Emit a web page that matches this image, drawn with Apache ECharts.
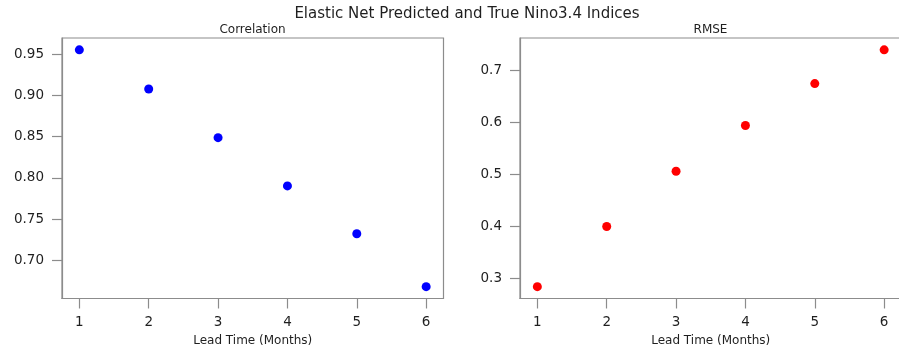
<!DOCTYPE html>
<html>
<head>
<meta charset="utf-8">
<script src="https://cdn.jsdelivr.net/npm/echarts@6/dist/echarts.min.js"></script>
<style>
html,body{margin:0;padding:0;background:#fff;}
#c{width:899px;height:346px;}
</style>
</head>
<body>
<div id="c"></div>
<script>
const leadTimes = [1, 2, 3, 4, 5, 6];
const correlation = [0.9552, 0.9077, 0.8488, 0.7903, 0.7323, 0.6682];
const rmse = [0.2845, 0.4000, 0.5060, 0.5937, 0.6740, 0.7388];
const xTicks = [1, 2, 3, 4, 5, 6];
const corrTicks = [0.70, 0.75, 0.80, 0.85, 0.90, 0.95];
const rmseTicks = [0.3, 0.4, 0.5, 0.6, 0.7];
const suptitle = 'Elastic Net Predicted and True Nino3.4 Indices';
const titles = ['Correlation', 'RMSE'];
const xLabel = 'Lead Time (Months)';

function pad(arr) {
  const mn = Math.min(...arr), mx = Math.max(...arr), d = (mx - mn) * 0.05;
  return [mn - d, mx + d];
}
const xr = pad(leadTimes);
const cr = pad(correlation);
const rr = pad(rmse);

const font = 'DejaVu Sans';
const spine = '#8c8c8c';
const txt = '#1f1f1f';

function xAxis(idx) {
  return {
    type: 'value', gridIndex: idx, min: xr[0], max: xr[1],
    name: xLabel, nameLocation: 'middle', nameGap: 34,
    nameTextStyle: {fontFamily: font, fontSize: 12, color: txt},
    axisLine: {show: true, lineStyle: {color: spine, width: 1.2}},
    axisTick: {show: true, length: 10, customValues: xTicks, lineStyle: {color: spine, width: 1.2}},
    axisLabel: {customValues: xTicks, margin: 17, fontFamily: font, fontSize: 13.5, color: txt,
      formatter: v => String(v)},
    splitLine: {show: false}
  };
}
function yAxis(idx, range, ticks, dec) {
  return {
    type: 'value', gridIndex: idx, min: range[0], max: range[1],
    axisLine: {show: true, lineStyle: {color: spine, width: 1.2}},
    axisTick: {show: true, length: 10, customValues: ticks, lineStyle: {color: spine, width: 1.2}},
    axisLabel: {customValues: ticks, margin: 18, fontFamily: font, fontSize: 13.5, color: txt,
      formatter: v => v.toFixed(dec)},
    splitLine: {show: false}
  };
}

const chart = echarts.init(document.getElementById('c'), null, {renderer: 'canvas'});
chart.setOption({
  backgroundColor: '#fff',
  animation: false,
  title: [
    {text: suptitle, left: 462, top: 2, textAlign: 'center',
      textStyle: {fontFamily: font, fontSize: 15, fontWeight: 'normal', color: txt}},
    {text: titles[0], left: 247.5, top: 19, textAlign: 'center',
      textStyle: {fontFamily: font, fontSize: 12, fontWeight: 'normal', color: txt}},
    {text: titles[1], left: 705.5, top: 19, textAlign: 'center',
      textStyle: {fontFamily: font, fontSize: 12, fontWeight: 'normal', color: txt}}
  ],
  grid: [
    {left: 62, top: 38, width: 381.5, height: 260.5, show: true, borderColor: spine, borderWidth: 1.2,
      backgroundColor: 'transparent', outerBoundsMode: 'none', containLabel: false},
    {left: 520, top: 38, width: 381.5, height: 260.5, show: true, borderColor: spine, borderWidth: 1.2,
      backgroundColor: 'transparent', outerBoundsMode: 'none', containLabel: false}
  ],
  xAxis: [xAxis(0), xAxis(1)],
  yAxis: [yAxis(0, cr, corrTicks, 2), yAxis(1, rr, rmseTicks, 1)],
  series: [
    {type: 'scatter', xAxisIndex: 0, yAxisIndex: 0, symbolSize: 9,
      itemStyle: {color: '#0000ff', opacity: 1}, data: leadTimes.map((x, i) => [x, correlation[i]])},
    {type: 'scatter', xAxisIndex: 1, yAxisIndex: 1, symbolSize: 9,
      itemStyle: {color: '#ff0000', opacity: 1}, data: leadTimes.map((x, i) => [x, rmse[i]])}
  ]
});
</script>
</body>
</html>
